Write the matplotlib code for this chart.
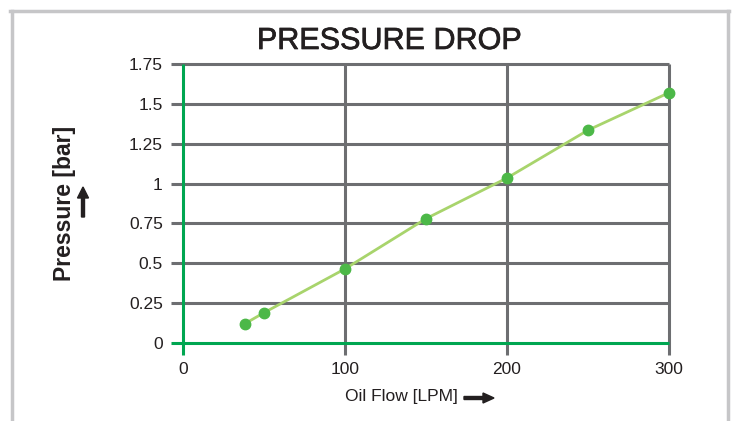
import matplotlib.pyplot as plt
import matplotlib.patheffects as pe
from matplotlib.lines import Line2D
from matplotlib.patches import FancyArrow

plt.rcParams['font.family'] = ['Liberation Sans', 'DejaVu Sans']

flow = [38, 50, 100, 150, 200, 250, 300]
pressure = [0.12, 0.19, 0.465, 0.78, 1.035, 1.335, 1.57]
xticks = [0, 100, 200, 300]
yticks = [0, 0.25, 0.5, 0.75, 1, 1.25, 1.5, 1.75]
ytick_labels = ['0', '0.25', '0.5', '0.75', '1', '1.25', '1.5', '1.75']

grey = '#6d6e71'
axis_green = '#00a651'
dot_green = '#4cb848'
line_green = '#a8d46c'
ink = '#231f20'

fig = plt.figure(figsize=(7.33, 4.21), dpi=100)
ax = fig.add_axes([183/733, 1-343/421, 486/733, 279/421])
ax.set_xlim(0, 300)
ax.set_ylim(0, 1.75)

for s in ax.spines.values():
    s.set_visible(False)

# grid lines, extended outward like ticks
for y in yticks:
    c = axis_green if y == 0 else grey
    ax.plot([-7.4, 300], [y, y], color=c, lw=2.2, clip_on=False, zorder=2 if y == 0 else 1,
            solid_capstyle='butt')
for x in xticks:
    c = axis_green if x == 0 else grey
    ax.plot([x, x], [-0.075, 1.75], color=c, lw=2.2, clip_on=False, zorder=2 if x == 0 else 1,
            solid_capstyle='butt')

ax.plot(flow, pressure, color=line_green, lw=2, zorder=3)
ax.plot(flow, pressure, 'o', color=dot_green, ms=7.5, zorder=4, clip_on=False)

ax.set_xticks(xticks)
ax.set_yticks(yticks)
ax.set_yticklabels(ytick_labels)
ax.tick_params(length=0, labelsize=12.5, colors=ink)
ax.tick_params(axis='x', pad=14)
ax.tick_params(axis='y', pad=14.5)

fig.text(389/733, 1-49/421, 'PRESSURE DROP', ha='center', va='baseline',
         fontsize=22, color=ink,
         path_effects=[pe.withStroke(linewidth=0.5, foreground=ink)])
fig.text(65/733, 1-203/421, 'Pressure [bar]', rotation=90, ha='center', va='center',
         fontsize=16.5, fontweight='bold', color=ink)
fig.text(401/733, 1-397/421, 'Oil Flow [LPM]', ha='center', va='center',
         fontsize=12.5, color=ink)

# arrows
fig.add_artist(FancyArrow(83/733, 1-217/421, 0, 30/421, width=3/733,
               head_width=11/733, head_length=11/421, length_includes_head=True,
               transform=fig.transFigure, color=ink))
fig.add_artist(FancyArrow(464/733, 1-398/421, 30/733, 0, width=3/421,
               head_width=10/421, head_length=11/733, length_includes_head=True,
               transform=fig.transFigure, color=ink))

# outer frame
fc = '#c6c6c8'
fig.add_artist(Line2D([11.5/733, 11.5/733], [0, 1-10.5/421], color=fc, lw=2.5, transform=fig.transFigure))
fig.add_artist(Line2D([10/733, 729/733], [1-10.5/421, 1-10.5/421], color=fc, lw=2.5, transform=fig.transFigure))
fig.add_artist(Line2D([727.5/733, 727.5/733], [0, 1-10.5/421], color=fc, lw=2.5, transform=fig.transFigure))

fig.savefig('out.png', dpi=100)
